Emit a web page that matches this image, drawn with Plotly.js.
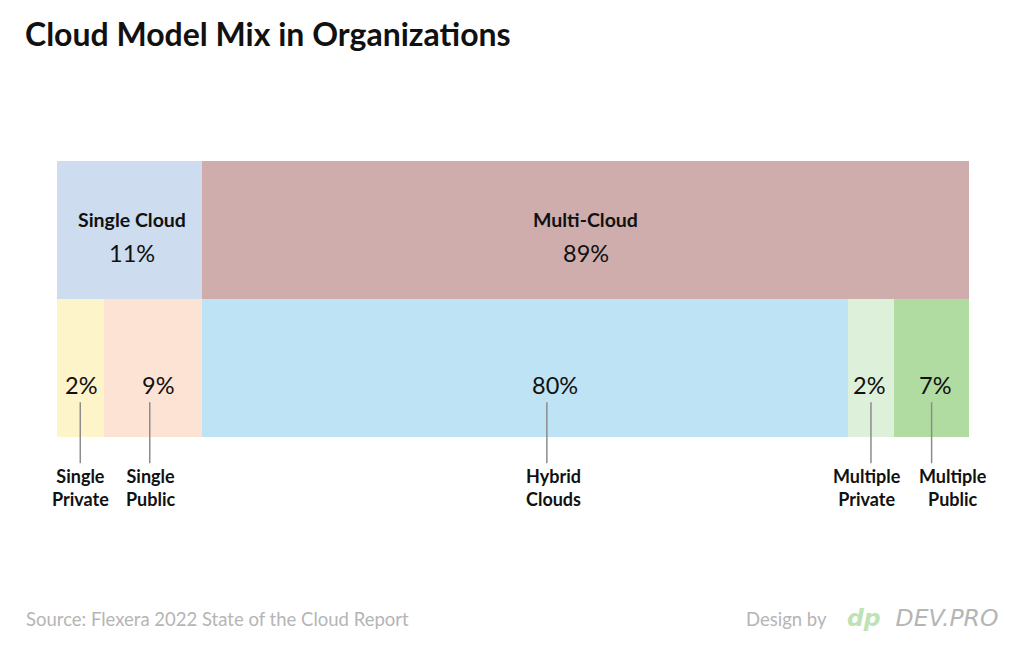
<!DOCTYPE html>
<html>
<head>
<meta charset="utf-8">
<script src="https://cdn.plot.ly/plotly-3.0.1.min.js"></script>
<style>html,body{margin:0;padding:0;background:#fff;}#chart{width:1024px;height:659px;}</style>
</head>
<body>
<div id="chart"></div>
<script>
// ---- data ----
const topCategories = ["Single Cloud", "Multi-Cloud"];
const topShares = [11, 89];              // labelled percentages
const topDrawnWidths = [15.9, 84.1];     // bar lengths as drawn in the picture
const bottomCategories = ["Single Private", "Single Public", "Hybrid Clouds", "Multiple Private", "Multiple Public"];
const bottomLabels = ["Single<br>Private", "Single<br>Public", "Hybrid<br>Clouds", "Multiple<br>Private", "Multiple<br>Public"];
const bottomShares = [2, 9, 80, 2, 7];
const bottomDrawnWidths = [5.1, 10.8, 70.8, 5.1, 8.2];

// ---- styles ----
const topColors = ["#cddcef", "#cfadac"];
const bottomColors = ["#fdf4c9", "#fde3d3", "#bde3f5", "#ddf0da", "#b0dca1"];
const pxPerUnit = 912 / 100;
const pctShift = [1, 5, 30, -2, 3];
const lineShift = [0, -3, 22, 0, 0];
const labelShift = [0, -2, 29, -4, 21];
const FONT = "Lato, 'Open Sans', sans-serif";

const traces = [];
topCategories.forEach((c, i) => {
  traces.push({type: "bar", orientation: "h", y: ["Model"], x: [topDrawnWidths[i]], name: c,
    marker: {color: topColors[i], line: {width: 0}}, hoverinfo: "skip", showlegend: false});
});
bottomCategories.forEach((c, i) => {
  traces.push({type: "bar", orientation: "h", y: ["Type"], x: [bottomDrawnWidths[i]], name: c,
    marker: {color: bottomColors[i], line: {width: 0}}, hoverinfo: "skip", showlegend: false});
});

const annotations = [];
const shapes = [];
let acc = 0;
topCategories.forEach((c, i) => {
  const cx = acc + topDrawnWidths[i] / 2;
  annotations.push({x: cx, xref: "x", y: 0.789, yref: "paper", text: "<b>" + c + "</b>", showarrow: false,
    xshift: i === 0 ? 2 : 0, font: {family: FONT, size: 19.5, color: "#111"}, xanchor: "center", yanchor: "middle"});
  annotations.push({x: cx, xref: "x", y: 0.666, yref: "paper", text: topShares[i] + "%", showarrow: false,
    xshift: i === 0 ? 2 : 0, font: {family: FONT, size: 23.5, color: "#111"}, xanchor: "center", yanchor: "middle"});
  acc += topDrawnWidths[i];
});
acc = 0;
bottomCategories.forEach((c, i) => {
  const cx = acc + bottomDrawnWidths[i] / 2;
  annotations.push({x: cx, xref: "x", y: 0.187, yref: "paper", text: bottomShares[i] + "%", showarrow: false,
    xshift: pctShift[i], font: {family: FONT, size: 23.5, color: "#111"}, xanchor: "center", yanchor: "middle"});
  annotations.push({x: cx, xref: "x", y: -0.184, yref: "paper", text: "<b>" + bottomLabels[i] + "</b>", showarrow: false,
    xshift: labelShift[i], font: {family: FONT, size: 18, color: "#111"}, xanchor: "center", yanchor: "middle", align: "center"});
  const lx = cx + lineShift[i] / pxPerUnit;
  shapes.push({type: "line", xref: "x", yref: "paper", x0: lx, x1: lx, y0: 0.126, y1: -0.095,
    line: {color: "#8c8c8c", width: 1.5}});
  acc += bottomDrawnWidths[i];
});

// footer
annotations.push({xref: "paper", yref: "paper", x: (24 - 57) / 912, y: -0.66, xanchor: "left", yanchor: "middle",
  text: "Source: Flexera 2022 State of the Cloud Report", showarrow: false, font: {family: FONT, size: 18.5, color: "#b5b5b5"}});
annotations.push({xref: "paper", yref: "paper", x: (744 - 57) / 912, y: -0.66, xanchor: "left", yanchor: "middle",
  text: "Design by", showarrow: false, font: {family: FONT, size: 18.5, color: "#b5b5b5"}});
annotations.push({xref: "paper", yref: "paper", x: (845 - 57) / 912, y: -0.655, xanchor: "left", yanchor: "middle",
  text: "<b><i><span style='color:#bde3b3'>dp</span></i></b>  <i><span style='color:#b5b5b5'>DEV.PRO</span></i>",
  showarrow: false, font: {family: "'DejaVu Sans', sans-serif", size: 23.5, color: "#b5b5b5"}});

const layout = {
  width: 1024, height: 659,
  margin: {l: 57, r: 55, t: 161, b: 222},
  paper_bgcolor: "#fff", plot_bgcolor: "#fff",
  barmode: "stack", bargap: 0,
  title: {text: "<b>Cloud Model Mix in Organizations</b>", x: 25 / 1024, xref: "container", xanchor: "left",
    y: 1 - 35 / 659, yref: "container", yanchor: "middle", font: {family: FONT, size: 32, color: "#111"}},
  xaxis: {range: [0, 100], visible: false, fixedrange: true},
  yaxis: {type: "category", categoryorder: "array", categoryarray: ["Type", "Model"], range: [-0.5, 1.5], visible: false, fixedrange: true},
  annotations: annotations,
  shapes: shapes,
  showlegend: false
};
Plotly.newPlot("chart", traces, layout, {displayModeBar: false, staticPlot: true});
</script>
</body>
</html>
